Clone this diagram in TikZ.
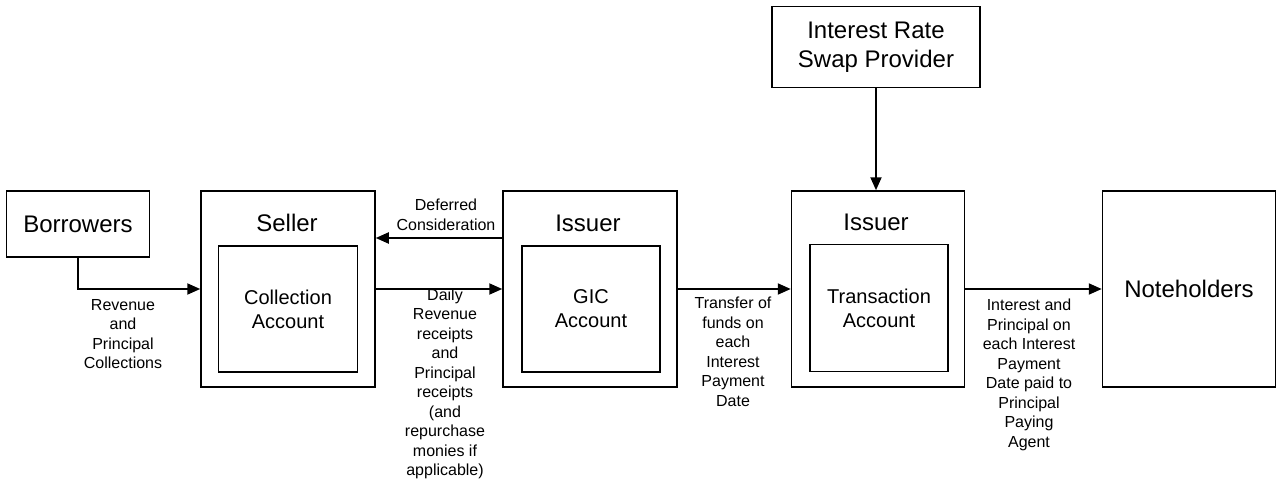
\documentclass[tikz,border=0pt]{standalone}
\usepackage{fontspec}
\setmainfont{Liberation Sans}
\usetikzlibrary{arrows.meta}

\begin{document}
\begin{tikzpicture}[x=1pt,y=-1pt,
  >={Triangle[length=13pt,width=11pt]},
  box/.style={draw,line width=1.5pt,inner sep=0pt},
  big/.style={font=\fontsize{24}{29}\selectfont,inner sep=0pt},
  mid/.style={font=\fontsize{20}{24}\selectfont,align=center},
  small/.style={font=\fontsize{16}{19.5}\selectfont,align=center,inner sep=0pt},
  flow/.style={->,line width=2pt}]
\useasboundingbox (0,0) rectangle (1278,487);
\node (borrowers) at (78,224) [box,big,minimum width=143pt,minimum height=66pt] {Borrowers};
\node (seller) at (288,289) [box,minimum width=174pt,minimum height=196pt] {};
\node (sellerlbl) at (287,223) [big] {Seller};
\node (collection) at (288,309) [box,mid,minimum width=139pt,minimum height=126pt] {Collection\\Account};
\node (issuer) at (590,289) [box,minimum width=174pt,minimum height=196pt] {};
\node (issuerlbl) at (588,223) [big] {Issuer};
\node (gic) at (591,309) [box,mid,minimum width=138pt,minimum height=126pt] {GIC\\Account};
\node (issuertwo) at (878,289) [box,minimum width=173pt,minimum height=196pt] {};
\node (issuertwolbl) at (876,222) [big] {Issuer};
\node (transaction) at (879,308) [box,mid,minimum width=138pt,minimum height=127pt] {Transaction\\Account};
\node (noteholders) at (1189,289) [box,big,minimum width=173pt,minimum height=196pt] {Noteholders};
\node (swap) at (876,47) [box,big,align=center,minimum width=208pt,minimum height=81pt] {Interest Rate\\Swap Provider};

\node (collections) at (123,334) [small] {Revenue\\and\\Principal\\Collections};
\node (deferred) at (446,215) [small] {Deferred\\Consideration};
\node (daily) at (445,384) [small] {Daily\\Revenue\\receipts\\and\\Principal\\receipts\\(and\\repurchase\\monies if\\applicable)};
\node (transfer) at (733,352) [small] {Transfer of\\funds on\\each\\Interest\\Payment\\Date};
\node (payment) at (1029,375) [small] {Interest and\\Principal on\\each Interest\\Payment\\Date paid to\\Principal\\Paying\\Agent};

\draw [flow] (borrowers.south) |- (seller.west);
\draw [flow] ([yshift=51pt]issuer.west) -- ([yshift=51pt]seller.east);
\draw [flow] (seller.east) -- (issuer.west);
\draw [flow] (issuer.east) -- (issuertwo.west);
\draw [flow] (issuertwo.east) -- (noteholders.west);
\draw [flow] (swap.south) -- (swap.south |- issuertwo.north);
\end{tikzpicture}
\end{document}
